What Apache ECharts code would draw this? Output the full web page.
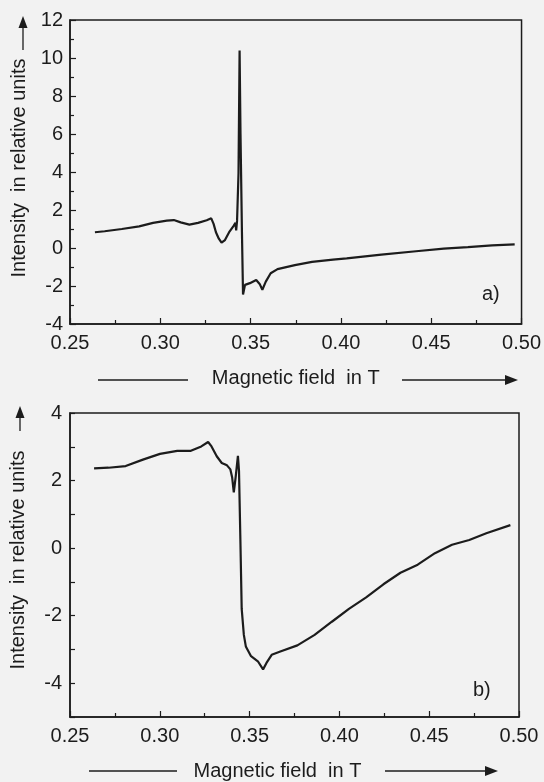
<!DOCTYPE html>
<html>
<head>
<meta charset="utf-8">
<script src="https://cdn.jsdelivr.net/npm/echarts@6/dist/echarts.min.js"></script>
<style>
  html, body { margin: 0; padding: 0; background: #f2f2f2; }
  #chart { width: 544px; height: 782px; }
</style>
</head>
<body>
<div id="chart"></div>
<script>
// panel a) field (T) and intensity (rel. units)
var fieldA = [0.2638, 0.2692, 0.2787, 0.2883, 0.2960, 0.3036, 0.3075, 0.3113, 0.3161, 0.3209,
  0.3257, 0.3282, 0.3295, 0.3308, 0.3324, 0.3339, 0.3358, 0.3381, 0.3404, 0.3416,
  0.3420, 0.3425, 0.3433, 0.3439, 0.3444, 0.3452, 0.3458, 0.3469, 0.3496, 0.3531,
  0.3550, 0.3565, 0.3584, 0.3611, 0.3649, 0.3745, 0.3840, 0.3956, 0.4032, 0.4224,
  0.4416, 0.4569, 0.4703, 0.4837, 0.4962];
var intensityA = [0.83, 0.88, 1.00, 1.14, 1.32, 1.44, 1.47, 1.35, 1.23, 1.32,
  1.46, 1.56, 1.27, 0.83, 0.49, 0.28, 0.42, 0.83, 1.14, 1.32,
  0.92, 1.44, 3.95, 10.4, 6.03, 0.83, -2.45, -1.94, -1.85, -1.68,
  -1.89, -2.2, -1.77, -1.33, -1.11, -0.9, -0.73, -0.61, -0.55, -0.35,
  -0.17, -0.03, 0.05, 0.14, 0.19];

// panel b)
var fieldB = [0.2634, 0.2714, 0.2810, 0.2906, 0.3001, 0.3097, 0.3173, 0.3231, 0.3269, 0.3288,
  0.3317, 0.3345, 0.3374, 0.3393, 0.3403, 0.3412, 0.3422, 0.3435, 0.3441, 0.3449,
  0.3456, 0.3468, 0.3479, 0.3508, 0.3546, 0.3575, 0.3594, 0.3623, 0.3671, 0.3766,
  0.3862, 0.3958, 0.4053, 0.4149, 0.4245, 0.4340, 0.4436, 0.4532, 0.4627, 0.4723,
  0.4818, 0.4952];
var intensityB = [2.36, 2.38, 2.43, 2.62, 2.79, 2.88, 2.88, 3.01, 3.14, 3.01,
  2.72, 2.52, 2.45, 2.33, 2.09, 1.65, 2.09, 2.73, 2.28, 0.15,
  -1.8, -2.57, -2.91, -3.2, -3.35, -3.59, -3.4, -3.16, -3.06, -2.88,
  -2.57, -2.18, -1.8, -1.46, -1.07, -0.73, -0.49, -0.15, 0.10, 0.24,
  0.44, 0.68];

var xTitle = 'Magnetic field  in T';
var yTitle = 'Intensity  in relative units';

var font = "'Liberation Sans', Arial, sans-serif";
var ink = '#1c1c1c';

function pairs(xs, ys) {
  return xs.map(function (x, i) { return [x, ys[i]]; });
}

function xAxisFor(idx, namePad) {
  return {
    type: 'value', gridIndex: idx, min: 0.25, max: 0.50, interval: 0.05,
    axisLine: { show: true, onZero: false, lineStyle: { color: ink, width: 1.5 } },
    axisTick: { show: true, inside: true, length: 6, lineStyle: { color: ink, width: 1.2 } },
    minorTick: { show: true, splitNumber: 2, length: 4, lineStyle: { color: ink, width: 1.2 } },
    splitLine: { show: false },
    axisLabel: {
      color: ink, fontFamily: font, fontSize: 20, margin: 9,
      formatter: function (v) { return v.toFixed(2); }
    },
    name: xTitle, nameLocation: 'middle', nameGap: 44,
    nameTextStyle: { color: ink, fontFamily: font, fontSize: 20, padding: namePad }
  };
}

var option = {
  backgroundColor: '#f2f2f2',
  animation: false,
  grid: [
    { left: 70, right: 22, top: 20, height: 304, show: true, borderColor: ink, borderWidth: 1.5 },
    { left: 65, right: 25, top: 413, height: 309, show: true, borderColor: ink, borderWidth: 1.5 }
  ],
  xAxis: [
    xAxisFor(0, [0, 0, 0, 0]),
    xAxisFor(1, [0, 34, 0, 0])
  ],
  yAxis: [
    {
      type: 'value', gridIndex: 0, min: -4, max: 12, interval: 2,
      axisLine: { show: true, onZero: false, lineStyle: { color: ink, width: 1.5 } },
      axisTick: { show: true, inside: true, length: 6, lineStyle: { color: ink, width: 1.2 } },
      minorTick: { show: true, splitNumber: 2, length: 4, lineStyle: { color: ink, width: 1.2 } },
      splitLine: { show: false },
      axisLabel: { color: ink, fontFamily: font, fontSize: 20, margin: 7 },
      name: yTitle, nameLocation: 'middle', nameGap: 38, nameRotate: 90,
      nameTextStyle: { color: ink, fontFamily: font, fontSize: 20, padding: [0, 0, 0, 8] }
    },
    {
      type: 'value', gridIndex: 1, min: -5, max: 4, interval: 1,
      axisLine: { show: true, onZero: false, lineStyle: { color: ink, width: 1.5 } },
      axisTick: { show: true, inside: true, length: 5, lineStyle: { color: ink, width: 1.2 } },
      splitLine: { show: false },
      axisLabel: {
        color: ink, fontFamily: font, fontSize: 20, margin: 8,
        formatter: function (v) { return v % 2 === 0 ? String(v) : ''; }
      },
      name: yTitle, nameLocation: 'middle', nameGap: 42, nameRotate: 90,
      nameTextStyle: { color: ink, fontFamily: font, fontSize: 20, padding: [0, 0, 0, 10] }
    }
  ],
  series: [
    {
      type: 'line', xAxisIndex: 0, yAxisIndex: 0, showSymbol: false,
      lineStyle: { color: ink, width: 2.2 },
      data: pairs(fieldA, intensityA)
    },
    {
      type: 'line', xAxisIndex: 1, yAxisIndex: 1, showSymbol: false,
      lineStyle: { color: ink, width: 2.2 },
      data: pairs(fieldB, intensityB)
    }
  ],
  graphic: [
    // panel tags
    { type: 'text', left: 482, top: 284, style: { text: 'a)', font: '20px ' + font, fill: ink } },
    { type: 'text', left: 473, top: 680, style: { text: 'b)', font: '20px ' + font, fill: ink } },
    // x title lines and arrows, panel a
    { type: 'line', shape: { x1: 98, y1: 380, x2: 188, y2: 380 }, style: { stroke: ink, lineWidth: 1.3 } },
    { type: 'line', shape: { x1: 402, y1: 380, x2: 508, y2: 380 }, style: { stroke: ink, lineWidth: 1.3 } },
    { type: 'polygon', shape: { points: [[518, 380], [505, 375], [505, 385]] }, style: { fill: ink } },
    // panel b
    { type: 'line', shape: { x1: 89, y1: 771, x2: 177, y2: 771 }, style: { stroke: ink, lineWidth: 1.3 } },
    { type: 'line', shape: { x1: 385, y1: 771, x2: 488, y2: 771 }, style: { stroke: ink, lineWidth: 1.3 } },
    { type: 'polygon', shape: { points: [[498, 771], [485, 766], [485, 776]] }, style: { fill: ink } },
    // y title arrows
    { type: 'line', shape: { x1: 23, y1: 50, x2: 23, y2: 26 }, style: { stroke: ink, lineWidth: 1.3 } },
    { type: 'polygon', shape: { points: [[23, 16], [18.5, 28], [27.5, 28]] }, style: { fill: ink } },
    { type: 'line', shape: { x1: 20, y1: 431, x2: 20, y2: 416 }, style: { stroke: ink, lineWidth: 1.3 } },
    { type: 'polygon', shape: { points: [[20, 406], [15.5, 418], [24.5, 418]] }, style: { fill: ink } }
  ]
};

var chart = echarts.init(document.getElementById('chart'));
chart.setOption(option);
</script>
</body>
</html>
